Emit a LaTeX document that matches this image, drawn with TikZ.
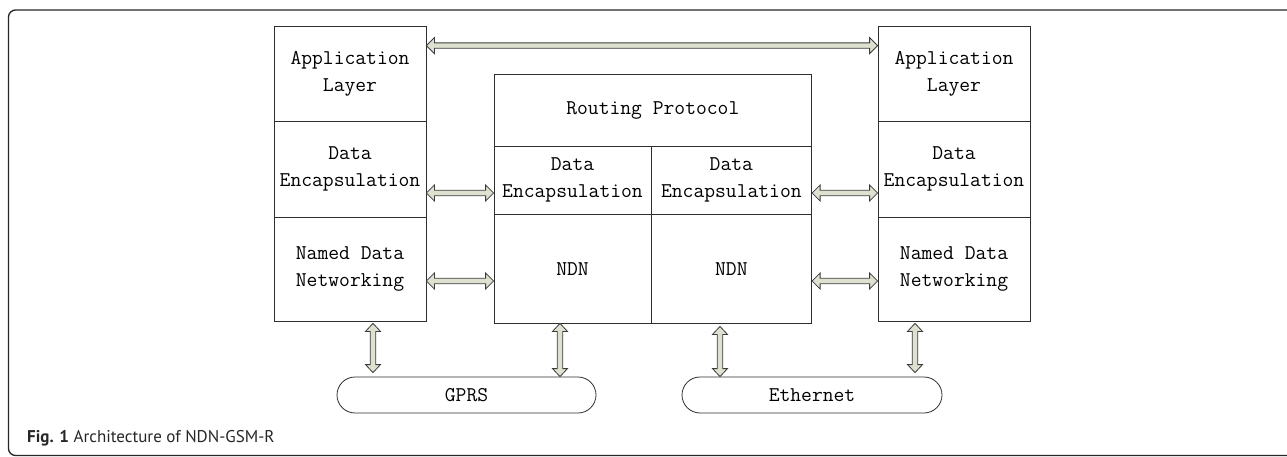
\documentclass[tikz,border=0pt]{standalone}
\usepackage{fontspec}
\newfontfamily\capfont{PT Sans}
\usetikzlibrary{calc}
\definecolor{arrfill}{HTML}{DDE1CF}
\definecolor{arrline}{HTML}{3C3C3C}
\definecolor{boxline}{HTML}{2E2E2E}
\newcommand{\harr}[2]{%
 \path let \p1=(#1), \p2=(#2) in [arrowbody]
 (\x1,\y1) -- (\x1+8pt,\y1+8pt) -- (\x1+8pt,\y1+2.7pt) -- (\x2-8pt,\y1+2.7pt) -- (\x2-8pt,\y1+8pt) -- (\x2,\y1)
 -- (\x2-8pt,\y1-8pt) -- (\x2-8pt,\y1-2.7pt) -- (\x1+8pt,\y1-2.7pt) -- (\x1+8pt,\y1-8pt) -- cycle;}
\newcommand{\varr}[2]{%
 \path let \p1=(#1), \p2=(#2) in [arrowbody]
 (\x1,\y1) -- (\x1+7.5pt,\y1-8pt) -- (\x1+2.8pt,\y1-8pt) -- (\x1+2.8pt,\y2+8pt) -- (\x1+7.5pt,\y2+8pt) -- (\x1,\y2)
 -- (\x1-7.5pt,\y2+8pt) -- (\x1-2.8pt,\y2+8pt) -- (\x1-2.8pt,\y1-8pt) -- (\x1-7.5pt,\y1-8pt) -- cycle;}
\begin{document}
\begin{tikzpicture}[x=1pt,y=-1pt,
  arrowbody/.style={draw=arrline, fill=arrfill, line width=0.8pt, line join=miter},
  layer/.style={draw=boxline, line width=0.8pt, inner sep=0pt, align=center,
    font=\ttfamily\fontsize{21}{27}\selectfont, text=black},
  net/.style={layer, rounded corners=18pt, minimum height=36pt}]
\useasboundingbox (0,0) rectangle (1287,457);
\draw[line width=1.3pt, draw=black!85, rounded corners=7pt] (8.5,455.5) rectangle (1310,10);
% left stack
\node[layer, minimum width=152pt, minimum height=94.3pt] (appL) at (350,73.85) {Application\\Layer};
\node[layer, minimum width=152pt, minimum height=96pt] (deL) at (350,169) {Data\\Encapsulation};
\node[layer, minimum width=152pt, minimum height=104pt] (ndnL) at (350,269) {Named Data\\Networking};
% right stack
\node[layer, minimum width=152pt, minimum height=94.3pt] (appR) at (954,73.85) {Application\\Layer};
\node[layer, minimum width=152pt, minimum height=96pt] (deR) at (954,169) {Data\\Encapsulation};
\node[layer, minimum width=152pt, minimum height=104pt] (ndnR) at (954,269) {Named Data\\Networking};
% middle
\node[layer, minimum width=317.7pt, minimum height=72pt] (rp) at (652.85,110) {Routing Protocol};
\node[layer, minimum width=157pt, minimum height=68.3pt] (de1) at (572.5,180.15) {Data\\Encapsulation};
\node[layer, minimum width=160.7pt, minimum height=68.3pt] (de2) at (731.35,180.15) {Data\\Encapsulation};
\node[layer, minimum width=157pt, minimum height=108.7pt] (ndn1) at (572.5,268.65) {NDN};
\node[layer, minimum width=160.7pt, minimum height=108.7pt] (ndn2) at (731.35,268.65) {NDN};
% networks
\node[net, minimum width=259pt] (gprs) at (466.5,395) {GPRS};
\node[net, minimum width=260pt] (eth) at (812,395) {Ethernet};
% caption
\node[anchor=base west, inner sep=0pt, text=black!85, font=\capfont\fontsize{17}{20}\selectfont] (cap) at (27,442) {\textbf{Fig. 1} Architecture of NDN-GSM-R};
% arrow end points
\coordinate (t1) at ([yshift=-19.3pt]appL.north east);
\coordinate (t2) at (appR.west |- t1);
\coordinate (d1) at ([yshift=-24pt]deL.east);
\coordinate (d2) at (de1.west |- d1);
\coordinate (d3) at (de2.east |- d1);
\coordinate (d4) at (deR.west |- d1);
\coordinate (n1) at ([yshift=-12pt]ndnL.east);
\coordinate (n2) at (ndn1.west |- n1);
\coordinate (n3) at (ndn2.east |- n1);
\coordinate (n4) at (ndnR.west |- n1);
\coordinate (v1) at ([xshift=23pt,yshift=-2pt]ndnL.south);
\coordinate (v2) at ([yshift=4pt]v1 |- gprs.north);
\coordinate (v3) at ([xshift=-12.5pt]ndn1.south);
\coordinate (v4) at (v3 |- gprs.north);
\coordinate (v5) at ([xshift=-11.35pt,yshift=-3pt]ndn2.south);
\coordinate (v6) at (v5 |- eth.north);
\coordinate (v7) at ([xshift=-39pt,yshift=-2pt]ndnR.south);
\coordinate (v8) at ([yshift=4pt]v7 |- eth.north);
\harr{t1}{t2}
\harr{d1}{d2}
\harr{d3}{d4}
\harr{n1}{n2}
\harr{n3}{n4}
\varr{v1}{v2}
\varr{v3}{v4}
\varr{v5}{v6}
\varr{v7}{v8}
\end{tikzpicture}
\end{document}
